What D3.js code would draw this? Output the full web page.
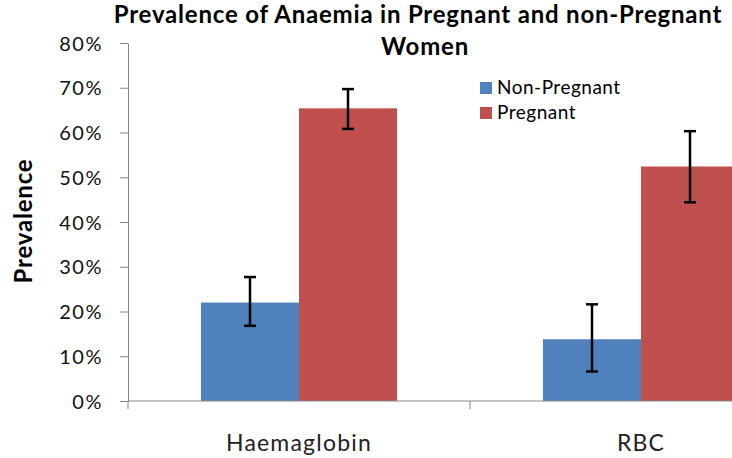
<!DOCTYPE html>
<html>
<head>
<meta charset="utf-8">
<script src="https://cdn.jsdelivr.net/npm/d3@7"></script>
<style>
  body { margin: 0; background: #fff; }
  svg { display: block; }
</style>
</head>
<body>
<div id="wrapper"></div>
<script>
// chart data
const categories = ['Haemaglobin', 'RBC'];
const series = ['Non-Pregnant', 'Pregnant'];
const nonPregnant = [0.22, 0.138];
const pregnant = [0.654, 0.524];
const nonPregnantLow = [0.168, 0.066];
const nonPregnantHigh = [0.277, 0.216];
const pregnantLow = [0.608, 0.444];
const pregnantHigh = [0.697, 0.603];
const yTicks = [0, 0.1, 0.2, 0.3, 0.4, 0.5, 0.6, 0.7, 0.8];
const colors = ['#4f81bd', '#c0504d'];

function drawBarChart() {
  const dimensions = {
    width: 732,
    height: 458,
    margin: { top: 43, left: 128, bottom: 57 },
  };
  dimensions.boundedHeight = dimensions.height - dimensions.margin.top - dimensions.margin.bottom;
  // the original plot runs past the right edge of the picture
  dimensions.boundedWidth = 684;

  const rows = [];
  categories.forEach((c, i) => {
    rows.push({ cat: c, s: series[0], v: nonPregnant[i], lo: nonPregnantLow[i], hi: nonPregnantHigh[i] });
    rows.push({ cat: c, s: series[1], v: pregnant[i], lo: pregnantLow[i], hi: pregnantHigh[i] });
  });

  const wrapper = d3.select('#wrapper')
    .append('svg')
    .attr('width', dimensions.width)
    .attr('height', dimensions.height);

  const bounds = wrapper.append('g')
    .attr('transform', `translate(${dimensions.margin.left},${dimensions.margin.top})`);

  const yScale = d3.scaleLinear().domain([0, 0.8]).range([dimensions.boundedHeight, 0]);
  const xScale = d3.scaleBand().domain(categories).range([0, dimensions.boundedWidth]);
  const xSub = d3.scaleBand().domain(series).range([0, xScale.bandwidth()]).paddingOuter(0.745);
  const color = d3.scaleOrdinal().domain(series).range(colors);

  // bars
  bounds.selectAll('rect.bar')
    .data(rows)
    .join('rect')
    .attr('class', 'bar')
    .attr('x', d => xScale(d.cat) + xSub(d.s))
    .attr('width', xSub.bandwidth())
    .attr('y', d => yScale(d.v))
    .attr('height', d => dimensions.boundedHeight - yScale(d.v))
    .attr('fill', d => color(d.s));

  // error bars
  const capHalf = 6;
  const err = bounds.selectAll('g.err')
    .data(rows)
    .join('g')
    .attr('class', 'err')
    .attr('transform', d => `translate(${xScale(d.cat) + xSub(d.s) + xSub.bandwidth() / 2},0)`)
    .attr('stroke', '#000')
    .attr('stroke-width', 2.5);
  err.append('line').attr('y1', d => yScale(d.lo)).attr('y2', d => yScale(d.hi));
  err.append('line').attr('x1', -capHalf).attr('x2', capHalf)
    .attr('y1', d => yScale(d.lo)).attr('y2', d => yScale(d.lo));
  err.append('line').attr('x1', -capHalf).attr('x2', capHalf)
    .attr('y1', d => yScale(d.hi)).attr('y2', d => yScale(d.hi));

  // y axis
  const yAxis = bounds.append('g')
    .call(d3.axisLeft(yScale).tickValues(yTicks).tickFormat(d3.format('.0%')).tickSize(8).tickSizeOuter(0))
    .attr('font-family', 'Lato, sans-serif')
    .attr('font-size', 20);
  yAxis.select('.domain').attr('stroke', '#868686');
  yAxis.selectAll('.tick line').attr('stroke', '#868686');
  yAxis.selectAll('.tick text')
    .attr('fill', '#111')
    .attr('letter-spacing', 1.5)
    .attr('x', -25)
    .attr('dy', '0.36em');

  // x axis
  const xAxis = bounds.append('g')
    .attr('transform', `translate(0,${dimensions.boundedHeight})`);
  xAxis.append('line')
    .attr('x1', 0).attr('x2', dimensions.boundedWidth)
    .attr('stroke', '#868686');
  const edges = categories.map(c => xScale(c)).concat([dimensions.boundedWidth]);
  xAxis.selectAll('line.tick')
    .data(edges)
    .join('line')
    .attr('class', 'tick')
    .attr('x1', d => d).attr('x2', d => d)
    .attr('y1', 0).attr('y2', 8)
    .attr('stroke', '#868686');
  xAxis.selectAll('text')
    .data(categories)
    .join('text')
    .attr('x', d => xScale(d) + xScale.bandwidth() / 2)
    .attr('y', 50)
    .attr('text-anchor', 'middle')
    .attr('font-family', 'Lato, sans-serif')
    .attr('font-size', 23)
    .attr('letter-spacing', 1.2)
    .attr('fill', '#222')
    .text(d => d);

  // y axis title
  wrapper.append('text')
    .attr('transform', 'translate(32,221) rotate(-90)')
    .attr('text-anchor', 'middle')
    .attr('font-family', 'Lato, sans-serif')
    .attr('font-weight', 'bold')
    .attr('font-size', 24)
    .attr('letter-spacing', 0.8)
    .text('Prevalence');

  // title
  const title = wrapper.append('text')
    .attr('text-anchor', 'middle')
    .attr('font-family', 'Lato, sans-serif')
    .attr('font-weight', 'bold')
    .attr('font-size', 24)
    .attr('letter-spacing', 0.8);
  title.append('tspan').attr('x', 418).attr('y', 23).text('Prevalence of Anaemia in Pregnant and non-Pregnant');
  title.append('tspan').attr('x', 425).attr('y', 55).text('Women');

  // legend
  const legend = wrapper.append('g')
    .attr('transform', 'translate(480,82)');
  const item = legend.selectAll('g')
    .data(series)
    .join('g')
    .attr('transform', (d, i) => `translate(0,${i * 25})`);
  item.append('rect')
    .attr('width', 12).attr('height', 12)
    .attr('fill', d => color(d));
  item.append('text')
    .attr('x', 17).attr('y', 12)
    .attr('font-family', 'Lato, sans-serif')
    .attr('font-size', 19)
    .attr('letter-spacing', 0.5)
    .attr('fill', '#000')
    .text(d => d);
}

drawBarChart();
</script>
</body>
</html>
